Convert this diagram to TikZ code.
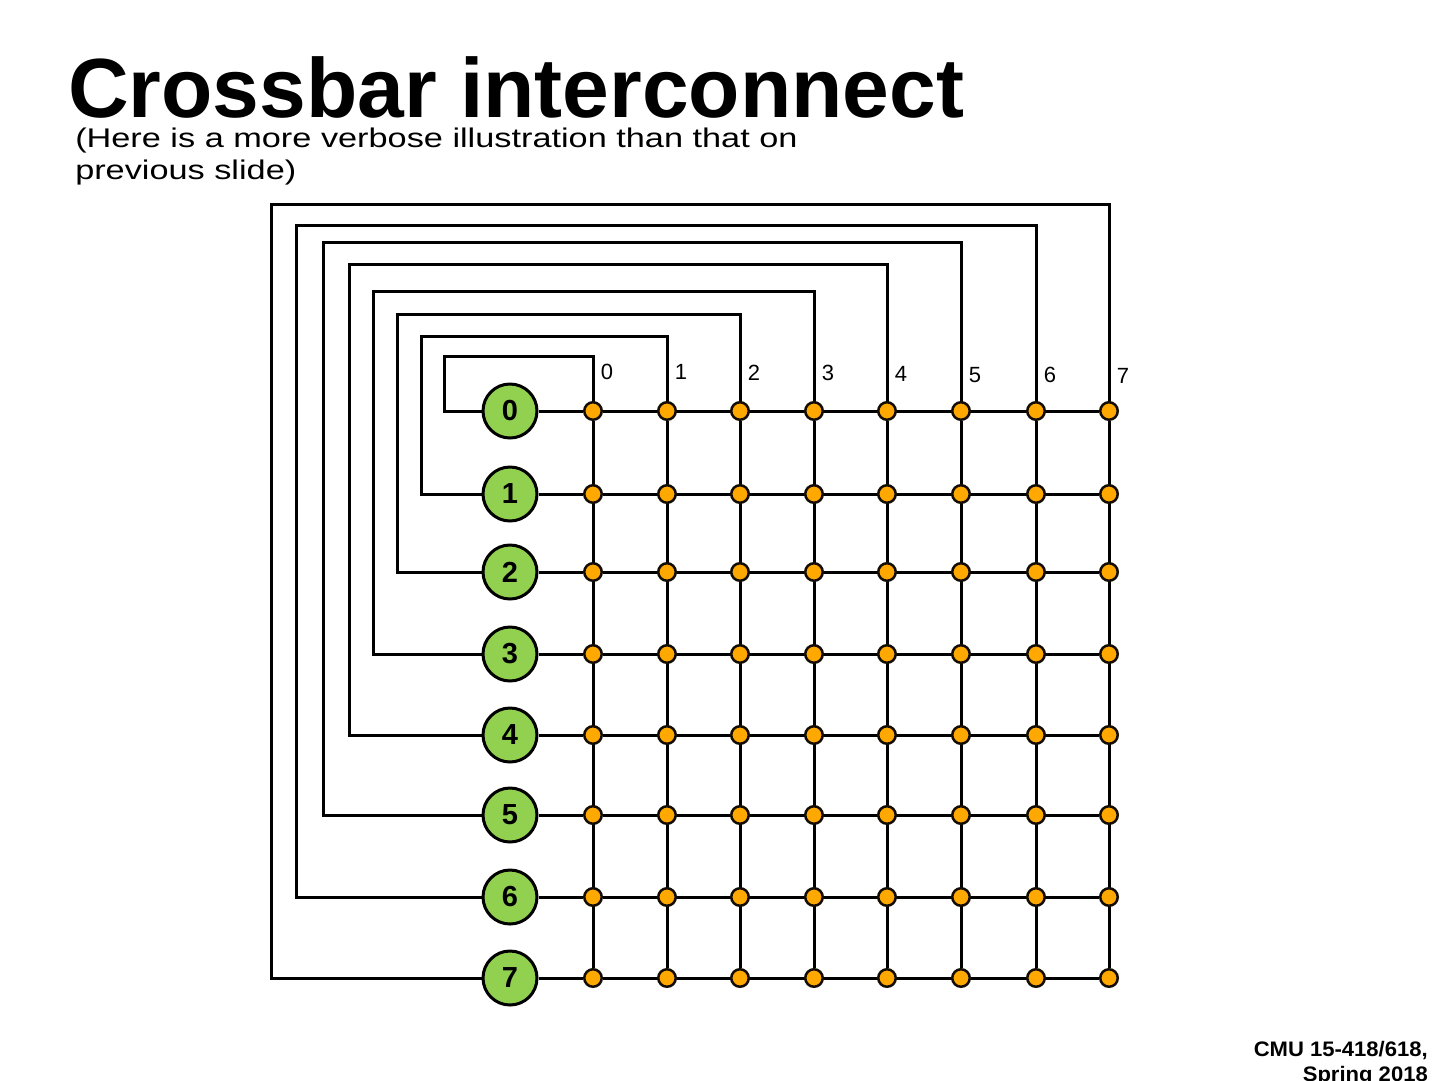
\documentclass[tikz,border=0pt]{standalone}
\usepackage{fontspec}
\setmainfont{Liberation Sans}
\usetikzlibrary{backgrounds}
\definecolor{pgreen}{HTML}{92D050}
\definecolor{dorange}{HTML}{FFA800}
\tikzset{
  wire/.style={line width=3pt, black},
  proc/.style={circle, draw=black, line width=3pt, fill=pgreen, minimum size=54pt, inner sep=0pt, font=\fontsize{29}{30}\selectfont\bfseries},
  xdot/.style={circle, draw=black!90!brown, line width=2.5pt, fill=dorange, minimum size=17.5pt, inner sep=0pt},
  collab/.style={font=\fontsize{22}{24}\selectfont, inner sep=0pt, anchor=base},
  subtxt/.style={anchor=base west, inner sep=0pt, font=\fontsize{27}{30}\selectfont, xscale=1.27},
  foot/.style={anchor=base east, inner sep=0pt, font=\fontsize{21}{25}\selectfont\bfseries, xscale=1.05},
}
\begin{document}
\begin{tikzpicture}[x=1pt,y=-1pt]
\useasboundingbox (0,0) rectangle (1440,1080);
\node[anchor=base west, inner sep=0pt, font=\fontsize{84}{90}\selectfont\bfseries] (title) at (68,117) {Crossbar interconnect};
\node[subtxt] (sub1) at (75,147) {(Here is a more verbose illustration than that on};
\node[subtxt] (sub2) at (75,179) {previous slide)};
\node[foot] (cmu1) at (1428,1056) {CMU 15-418/618,};
\node[foot] (cmu2) at (1428,1081) {Spring 2018};
\def\colx{{593,667,740,814,887,961,1036,1109}}
\def\rowy{{411,494,572,654,735,815,897,978}}
\def\loopx{{444,421,397,373,349,323,296,271}}
\def\loopy{{356,336,314,291,264,242,225,204}}
\foreach \i in {0,...,7}{
  \pgfmathsetmacro\ry{\rowy[\i]}
  \node[proc] (p\i) at (510,\ry) {\i};
  \foreach \j in {0,...,7}{
    \pgfmathsetmacro\cx{\colx[\j]}
    \node[xdot] (d\i-\j) at (\cx,\ry) {};
  }
  \pgfmathsetmacro\cx{\colx[\i]}
  \pgfmathsetmacro\lx{\loopx[\i]}
  \pgfmathsetmacro\ly{\loopy[\i]}
  \coordinate (a\i) at (\lx,\ry);
  \coordinate (b\i) at (\lx,\ly);
  \coordinate (c\i) at (\cx,\ly);
  \node[collab] (l\i) at (\cx+14,\i*0.6+379) {\i};
}
\begin{scope}[on background layer]
\foreach \i in {0,...,7}{
  \draw[wire] (p\i) -- (d\i-0) -- (d\i-7);
  \draw[wire] (d0-\i) -- (d7-\i);
  \draw[wire] (p\i.center) -- (a\i) -- (b\i) -- (c\i) -- (d0-\i.center);
}
\end{scope}
\end{tikzpicture}
\end{document}
